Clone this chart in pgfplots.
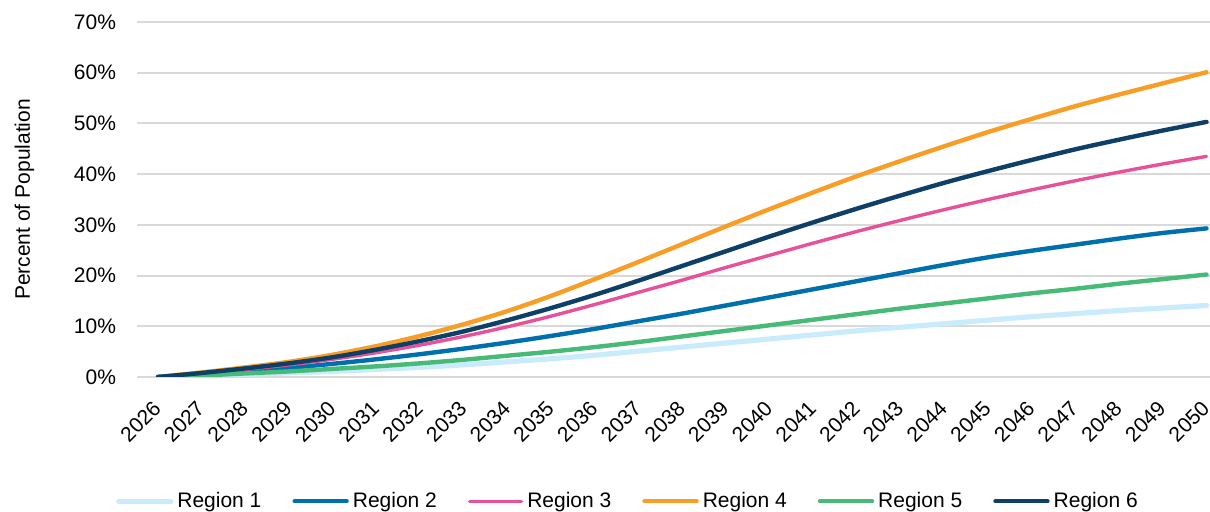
\documentclass[border=0pt]{standalone}
\usepackage{pgfplots}
\pgfplotsset{compat=1.18}
\usepackage{pgfplotstable}
\usepackage{fontspec}
\setmainfont{Liberation Sans}

\definecolor{regA}{HTML}{C9EBFB}
\definecolor{regB}{HTML}{0070AD}
\definecolor{regC}{HTML}{E6519A}
\definecolor{regD}{HTML}{F89E27}
\definecolor{regE}{HTML}{48BA78}
\definecolor{regF}{HTML}{0E3F66}
\definecolor{gridgray}{HTML}{D9D9D9}

% Share of population by region, 2026-2050 (percent)
\pgfplotstableread{
year  r1    r2    r3    r4    r5    r6
2026  0.0   0.0   0.0   0.0   0.0   0.0
2027  0.2   0.5   0.7   0.9   0.3   0.8
2028  0.5   1.1   1.5   1.9   0.7   1.7
2029  0.8   1.8   2.4   3.0   1.1   2.7
2030  1.1   2.6   3.5   4.4   1.6   3.9
2031  1.5   3.5   4.8   6.1   2.1   5.4
2032  1.9   4.5   6.3   8.1   2.7   7.1
2033  2.4   5.6   8.0   10.4  3.4   9.0
2034  3.0   6.8   9.9   13.0  4.2   11.2
2035  3.6   8.1   12.0  16.0  5.0   13.6
2036  4.3   9.5   14.3  19.3  5.9   16.2
2037  5.1   11.0  16.7  22.7  6.9   19.0
2038  5.9   12.5  19.1  26.2  8.0   21.9
2039  6.7   14.1  21.6  29.7  9.1   24.8
2040  7.5   15.7  24.0  33.1  10.2  27.7
2041  8.3   17.3  26.4  36.4  11.3  30.5
2042  9.1   18.9  28.7  39.6  12.4  33.2
2043  9.8   20.5  30.9  42.6  13.5  35.8
2044  10.5  22.1  33.0  45.5  14.5  38.3
2045  11.2  23.6  35.0  48.3  15.5  40.6
2046  11.9  24.9  36.9  50.9  16.5  42.8
2047  12.5  26.1  38.7  53.4  17.4  44.9
2048  13.1  27.3  40.4  55.7  18.4  46.8
2049  13.6  28.4  42.0  57.9  19.3  48.6
2050  14.1  29.3  43.5  60.1  20.2  50.3
}\regiondata

\begin{document}
\begin{tikzpicture}[x=1pt,y=1pt]
% overall canvas: 1 unit = half a pixel of a 1210 x 512 frame
\path[use as bounding box] (-68.5,-67.5) rectangle (536.5,188.5);
\begin{axis}[
  at={(0,0)}, anchor=south west,
  scale only axis,
  width=536.5pt, height=177.5pt,
  font=\fontsize{10.5}{12}\selectfont,
  xmin=2025.52, xmax=2050.08,
  ymin=0, ymax=70,
  xtick={2026,...,2050},
  ytick={0,10,...,70},
  yticklabel={\pgfmathprintnumber{\tick}\%},
  /pgf/number format/assume math mode=true,
  /pgf/number format/1000 sep={},
  major tick length=0pt,
  axis line style={draw=none},
  ymajorgrids,
  grid style={gridgray, line width=1pt},
  yticklabel style={anchor=east, xshift=-7pt},
  xticklabel style={xshift=2pt, yshift=-11.5pt, rotate=45, anchor=east},
  ylabel={Percent of Population},
  ylabel style={at={(axis description cs:-0.105,0.5)}, anchor=center},
  legend columns=6,
  legend style={draw=none, fill=none, at={(axis description cs:0.4585,-0.35)}, anchor=center,
    font=\fontsize{10.5}{12}\selectfont,
    /tikz/every even column/.append style={column sep=13.5pt}},
  legend image code/.code={\draw[#1, line cap=round] (0pt,0pt) -- (26pt,0pt);},
  every axis plot/.append style={line cap=round, line join=round},
]
\addplot[regA, line width=2.6pt, smooth] table[x=year, y=r1] {\regiondata};
\addlegendentry{Region 1}
\addplot[regB, line width=2.2pt, smooth] table[x=year, y=r2] {\regiondata};
\addlegendentry{Region 2}
\addplot[regC, line width=1.7pt, smooth] table[x=year, y=r3] {\regiondata};
\addlegendentry{Region 3}
\addplot[regD, line width=2.2pt, smooth] table[x=year, y=r4] {\regiondata};
\addlegendentry{Region 4}
\addplot[regE, line width=2.2pt, smooth] table[x=year, y=r5] {\regiondata};
\addlegendentry{Region 5}
\addplot[regF, line width=2.2pt, smooth] table[x=year, y=r6] {\regiondata};
\addlegendentry{Region 6}
\end{axis}
\end{tikzpicture}
\end{document}
